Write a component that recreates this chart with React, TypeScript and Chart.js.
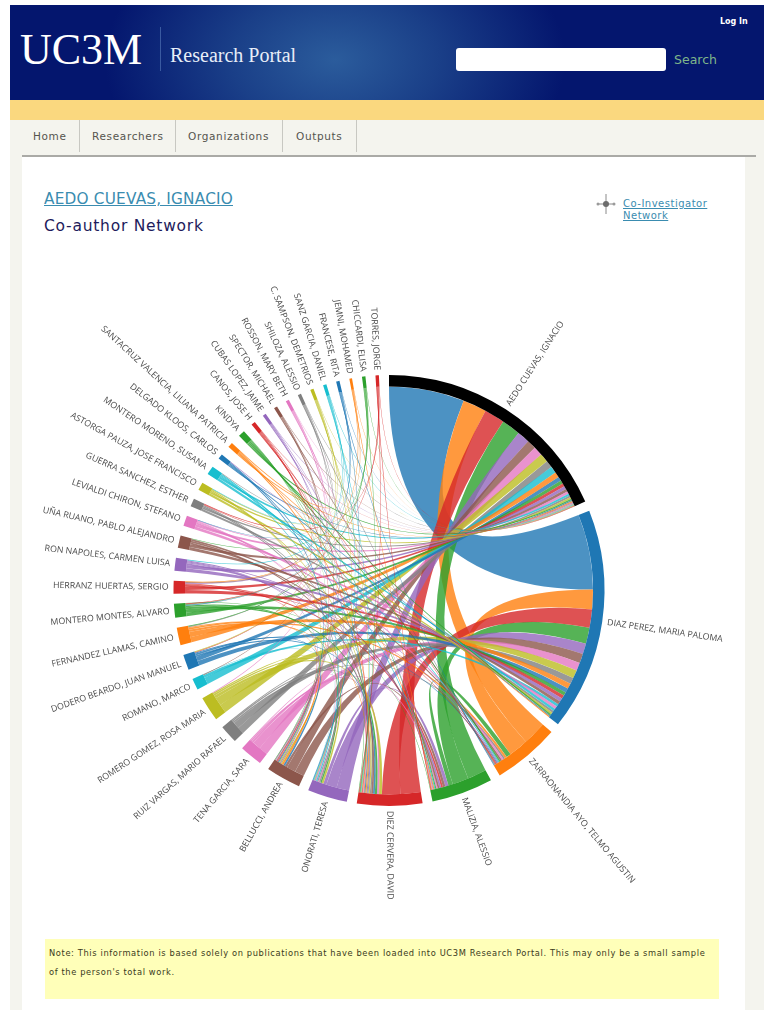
import React, { useEffect, useRef } from "react";
import { Chart, registerables } from "chart.js";

Chart.register(...registerables);

const authors = [
  "AEDO CUEVAS, IGNACIO", "DIAZ PEREZ, MARIA PALOMA", "ZARRAONANDIA AYO, TELMO AGUSTIN", "MALIZIA, ALESSIO",
  "DIEZ CERVERA, DAVID", "ONORATI, TERESA", "BELLUCCI, ANDREA", "TENA GARCIA, SARA", "RUIZ VARGAS, MARIO RAFAEL",
  "ROMERO GOMEZ, ROSA MARIA", "ROMANO, MARCO", "DODERO BEARDO, JUAN MANUEL", "FERNANDEZ LLAMAS, CAMINO",
  "MONTERO MONTES, ALVARO", "HERRANZ HUERTAS, SERGIO", "RON NAPOLES, CARMEN LUISA", "UÑA RUANO, PABLO ALEJANDRO",
  "LEVIALDI CHIRON, STEFANO", "GUERRA SANCHEZ, ESTHER", "ASTORGA PAUZA, JOSE FRANCISCO", "MONTERO MORENO, SUSANA",
  "DELGADO KLOOS, CARLOS", "SANTACRUZ VALENCIA, LILIANA PATRICIA", "KINDYA", "CANOS, JOSE H", "CUBAS LOPEZ, JAIME",
  "SPECTOR, MICHAEL", "ROSSON, MARY BETH", "SHILOZA, ALESSIO", "C. SAMPSON, DEMETRIOS", "SANZ GARCIA, DANIEL",
  "FRANCESE, RITA", "JEMNI, MOHAMED", "CHICCARDI, ELISA", "TORRES, JORGE",
];

// [other author index, shared weight] for the first two authors
const aedoLinks = [
  [1, 21.5], [2, 6.8], [3, 5.4], [4, 5.8], [5, 3.6], [6, 2.6], [7, 2.6], [8, 2.0], [9, 2.5], [10, 2.0],
  [11, 1.2], [12, 1.5], [13, 1.0], [14, 0.9], [15, 0.9], [16, 0.8], [17, 0.7], [18, 0.5], [19, 0.5], [20, 0.6],
  [21, 0.3], [22, 0.3], [23, 0.4], [24, 0.12], [25, 0.12], [26, 0.12], [27, 0.12], [28, 0.12], [29, 0.12], [30, 0.12],
  [31, 0.12], [32, 0.12], [33, 0.12], [34, 0.12],
];
const diazLinks = [
  [2, 5.6], [3, 4.6], [4, 5.2], [5, 3.0], [6, 2.7], [7, 2.3], [8, 1.8], [9, 2.3], [10, 0.8], [11, 1.3],
  [12, 1.5], [13, 1.0], [14, 1.0], [15, 1.0], [16, 0.9], [17, 0.8], [18, 0.6], [19, 0.6], [20, 0.7],
  [21, 0.3], [22, 0.3], [23, 0.4],
];
// [author index, author index, shared weight] among the larger groups
const coreLinks = [
  [2, 3, 1.3], [2, 8, 0.5], [2, 11, 0.26], [2, 12, 0.6], [2, 14, 0.24], [2, 15, 0.28], [2, 16, 0.48], [2, 17, 0.5], [2, 20, 0.3], [2, 23, 0.4],
  [3, 5, 0.9], [3, 6, 0.7], [3, 7, 0.4], [3, 13, 0.14], [3, 14, 0.5], [3, 15, 0.5], [3, 16, 0.5], [3, 20, 0.28], [3, 22, 0.28], [3, 23, 0.3],
  [4, 7, 0.6], [4, 8, 0.4], [4, 9, 0.8], [4, 11, 0.5], [4, 12, 0.26], [4, 13, 0.6], [4, 15, 0.3], [4, 16, 0.5], [4, 17, 0.26],
  [4, 18, 0.3], [4, 19, 0.36], [4, 21, 0.28], [4, 22, 0.3], [4, 23, 0.16],
  [5, 7, 0.3], [5, 8, 0.3], [5, 9, 0.5], [5, 10, 0.08], [5, 13, 0.4], [5, 17, 0.2], [5, 18, 0.36], [5, 20, 0.3],
  [6, 9, 0.38], [6, 11, 0.5], [6, 12, 0.5], [6, 14, 0.2], [6, 15, 0.3], [6, 19, 0.3], [6, 21, 0.3], [6, 23, 0.14],
];
// the eleven smallest authors: [author index, partner index], each a single thin ribbon
const thinPairs = [
  [24, 2], [24, 4], [24, 6], [24, 11], [24, 18],
  [25, 3], [25, 5], [25, 14], [25, 21],
  [26, 2], [26, 6], [26, 10], [26, 14],
  [27, 3], [27, 6], [27, 9], [27, 17],
  [28, 2], [28, 6], [28, 12], [28, 20],
  [29, 4], [29, 5], [29, 11], [29, 19],
  [30, 4], [30, 5], [30, 15], [30, 19],
  [31, 2], [31, 5], [31, 13], [31, 17],
  [32, 3], [32, 14], [32, 22],
  [33, 4], [33, 12], [33, 13], [33, 16],
  [34, 3], [34, 4], [34, 13], [34, 18],
];
const thinWeight = 0.2;
const gapWeight = 2.69;
const palette = ["#1f77b4", "#ff7f0e", "#2ca02c", "#d62728", "#9467bd", "#8c564b", "#e377c2", "#7f7f7f", "#bcbd22", "#17becf"];

const links: number[][] = [
  ...aedoLinks.map(([t, v]) => [0, t, v]),
  ...diazLinks.map(([t, v]) => [1, t, v]),
  ...coreLinks,
  ...thinPairs.map(([s, p]) => [p, s, thinWeight]),
].sort((p, q) => p[0] - q[0] || p[1] - q[1]);

const totals = authors.map((_, i) =>
  links.reduce((sum, [a, b, v]) => (a === i || b === i ? sum + v : sum), 0)
);
const authorColor = (i: number) => (i === 0 ? "#000000" : palette[(i - 1) % palette.length]);

function withAlpha(hex: string, a: number) {
  const n = parseInt(hex.slice(1), 16);
  return `rgba(${n >> 16},${(n >> 8) & 255},${n & 255},${a})`;
}

const chordPlugin = {
  id: "chord",
  beforeDatasetsDraw(chart: any) {
    const arcs = chart.getDatasetMeta(0).data;
    const first = arcs[0];
    const { x: cx, y: cy, innerRadius: r } = first;
    const pieces = new Map<string, number[]>();
    authors.forEach((_, i) => {
      const arc = arcs[i * 2];
      const perUnit = (arc.endAngle - arc.startAngle) / totals[i];
      const own = links
        .map((l, k) => ({ l, k }))
        .filter(({ l }) => l[0] === i || l[1] === i)
        .sort((p, q) => q.l[2] - p.l[2] || p.k - q.k);
      let a = arc.startAngle;
      own.forEach(({ l, k }) => {
        const next = a + l[2] * perUnit;
        pieces.set(`${k}:${i}`, [a, next]);
        a = next;
      });
    });
    const ctx = chart.ctx;
    ctx.save();
    links.forEach((l, k) => {
      const [a0, a1] = pieces.get(`${k}:${l[0]}`)!;
      const [b0, b1] = pieces.get(`${k}:${l[1]}`)!;
      ctx.beginPath();
      ctx.moveTo(cx + r * Math.cos(a0), cy + r * Math.sin(a0));
      ctx.arc(cx, cy, r, a0, a1);
      ctx.quadraticCurveTo(cx, cy, cx + r * Math.cos(b0), cy + r * Math.sin(b0));
      ctx.arc(cx, cy, r, b0, b1);
      ctx.quadraticCurveTo(cx, cy, cx + r * Math.cos(a0), cy + r * Math.sin(a0));
      ctx.closePath();
      ctx.fillStyle = withAlpha(authorColor(l[1]), 0.8);
      ctx.fill();
    });
    ctx.restore();
  },
  afterDatasetsDraw(chart: any) {
    const arcs = chart.getDatasetMeta(0).data;
    const ctx = chart.ctx;
    ctx.save();
    ctx.font = '8.8px "Open Sans", sans-serif';
    ctx.fillStyle = "#4a4a4a";
    ctx.textBaseline = "middle";
    authors.forEach((name, i) => {
      const arc = arcs[i * 2];
      const mid = (arc.startAngle + arc.endAngle) / 2;
      ctx.save();
      ctx.translate(arc.x, arc.y);
      ctx.rotate(mid);
      ctx.translate(arc.outerRadius + 5, 0);
      if (Math.cos(mid) < 0) {
        ctx.rotate(Math.PI);
        ctx.textAlign = "right";
      } else {
        ctx.textAlign = "left";
      }
      ctx.fillText(name, 0, 0);
      ctx.restore();
    });
    ctx.restore();
  },
};

const abs = (left: number, top: number, extra: React.CSSProperties = {}): React.CSSProperties => ({
  position: "absolute",
  left,
  top,
  whiteSpace: "nowrap",
  ...extra,
});
const ui = '"DejaVu Sans", sans-serif';
const serif = '"Liberation Serif", serif';

export default function App() {
  const ref = useRef<HTMLCanvasElement>(null);
  useEffect(() => {
    const data: number[] = [];
    const colors: string[] = [];
    const labels: string[] = [];
    authors.forEach((name, i) => {
      data.push(totals[i], gapWeight);
      colors.push(authorColor(i), "rgba(0,0,0,0)");
      labels.push(name, "");
    });
    const chart = new Chart(ref.current!, {
      type: "doughnut",
      data: { labels, datasets: [{ data, backgroundColor: colors, borderWidth: 0 }] },
      options: {
        animation: false,
        responsive: false,
        cutout: 204,
        layout: { padding: { left: 173.5, right: 159.5, top: 135, bottom: 134 } },
        plugins: { legend: { display: false }, tooltip: { enabled: false } },
      },
      plugins: [chordPlugin],
    } as any);
    return () => chart.destroy();
  }, []);

  const navSeparators = [79, 175, 282, 356];
  const navItems: [string, number][] = [["Home", 33], ["Researchers", 92], ["Organizations", 188], ["Outputs", 296]];

  return (
    <div style={abs(0, 0, { width: 764, height: 1010, overflow: "hidden", background: "#fff", fontFamily: ui, filter: "blur(0.45px)" })}>
      <div style={abs(10, 120, { width: 754, height: 890, background: "#f4f4ee" })} />
      <div style={abs(22, 157, { width: 723, height: 853, background: "#fff" })} />
      <div
        style={abs(10, 5, {
          width: 754,
          height: 95,
          background: "radial-gradient(ellipse 230px 150px at 325px 55px, #2b5c9c 0%, #1a3f88 45%, #04166e 100%)",
        })}
      />
      <div style={abs(10, 100, { width: 754, height: 20, background: "#fad87f" })} />
      <div style={abs(22, 155, { width: 734, height: 2, background: "#aaaaa6" })} />

      <div style={abs(20, 25, { fontFamily: serif, fontSize: 44, lineHeight: "50px", color: "#fff" })}>UC3M</div>
      <div style={abs(160, 27, { width: 1, height: 44, background: "#3a5aa0" })} />
      <div style={abs(170, 43, { fontFamily: serif, fontSize: 20, lineHeight: "24px", color: "#e8eef8" })}>Research Portal</div>
      <div style={abs(456, 48, { width: 210, height: 23, background: "#fff", borderRadius: 3 })} />
      <div style={abs(674, 51, { fontSize: 12.5, lineHeight: "17px", color: "#7fb58a" })}>Search</div>
      <div style={abs(720, 16, { fontSize: 8, lineHeight: "12px", fontWeight: 700, color: "#fff" })}>Log In</div>

      {navSeparators.map((x) => (
        <div key={x} style={abs(x, 120, { width: 1, height: 32, background: "#c8c8c2" })} />
      ))}
      {navItems.map(([t, x]) => (
        <div key={t} style={abs(x, 129, { fontSize: 10.5, lineHeight: "15px", color: "#55554f", letterSpacing: 0.65 })}>{t}</div>
      ))}

      <div style={abs(44, 189, { fontSize: 15.3, lineHeight: "21px", color: "#3a8cb0", textDecoration: "underline", letterSpacing: 0.2 })}>AEDO CUEVAS, IGNACIO</div>
      <div style={abs(44, 216, { fontSize: 15.5, lineHeight: "21px", color: "#1d1b5c", letterSpacing: 0.75 })}>Co-author Network</div>

      <svg style={abs(595, 193)} width={22} height={22} viewBox="0 0 22 22">
        <path d="M11 1 V21 M3 11 H19" stroke="#8a8a8a" strokeWidth={1} />
        <circle cx={11} cy={11} r={3} fill="#6c6c6c" />
        <circle cx={3} cy={11} r={1.5} fill="#9a9a9a" />
        <circle cx={19} cy={11} r={1.5} fill="#9a9a9a" />
      </svg>
      <div style={abs(623, 198, { fontSize: 10, lineHeight: "12px", color: "#3a8cb0", textDecoration: "underline", letterSpacing: 0.5 })}>
        Co-Investigator
        <br />
        Network
      </div>

      <canvas ref={ref} width={764} height={700} style={abs(0, 240, { display: "block", width: 764, height: 700 })} />

      <div style={abs(45, 939, { width: 674, height: 60, background: "#ffffb9" })} />
      <div style={abs(49, 944, { fontSize: 8.3, lineHeight: "18.5px", color: "#3a3a20", letterSpacing: 0.62 })}>
        Note: This information is based solely on publications that have been loaded into UC3M Research Portal. This may only be a small sample
        <br />
        of the person's total work.
      </div>
    </div>
  );
}
